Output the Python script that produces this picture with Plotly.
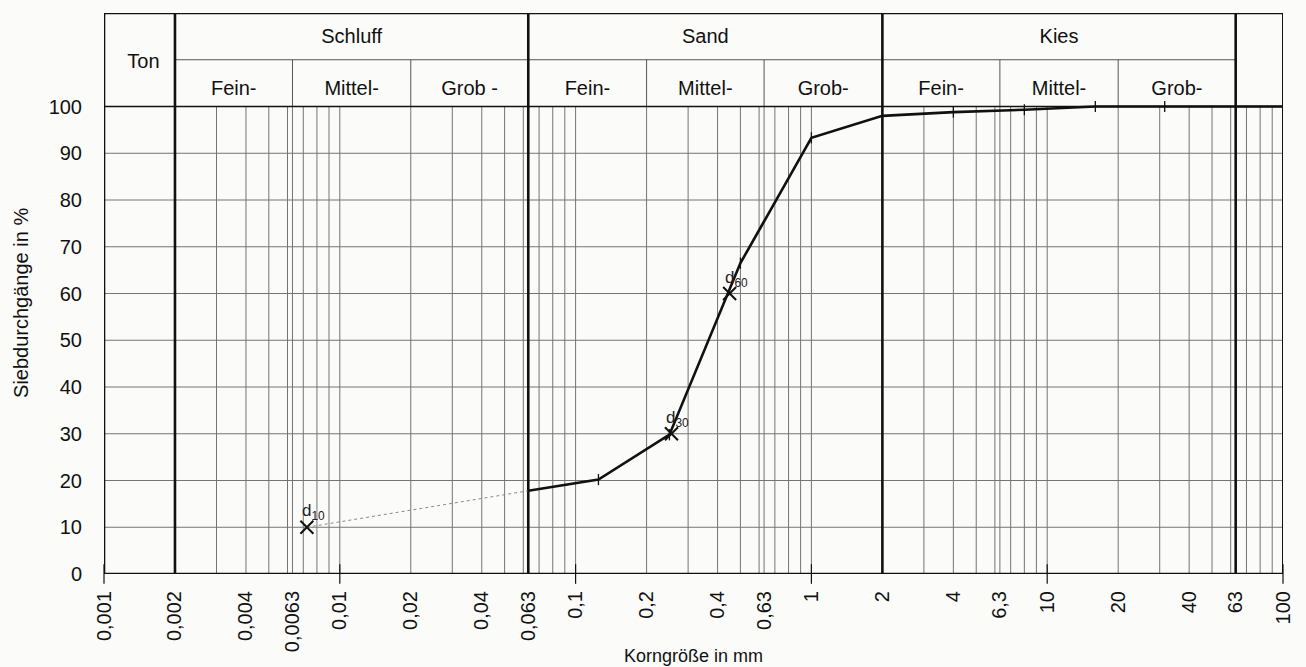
import math
import plotly.graph_objects as go

# ---------------- data ----------------
sieve_mm = [0.063, 0.125, 0.25, 0.5, 1.0, 2.0, 4.0, 8.0, 16.0, 31.5, 63.0, 100.0]
passing_pct = [17.8, 20.2, 29.8, 66.5, 93.3, 98.0, 98.8, 99.3, 100.0, 100.0, 100.0, 100.0]

fines_mm = [0.00725, 0.063]
fines_pct = [10.0, 17.8]

d_names = ["10", "30", "60"]
d_mm = [0.00725, 0.255, 0.45]
d_pct = [10.0, 30.0, 60.0]

x_tickvals = [0.001, 0.002, 0.004, 0.0063, 0.01, 0.02, 0.04, 0.063, 0.1, 0.2, 0.4,
              0.63, 1, 2, 4, 6.3, 10, 20, 40, 63, 100]
x_ticktext = ["0,001", "0,002", "0,004", "0,0063", "0,01", "0,02", "0,04", "0,063", "0,1",
              "0,2", "0,4", "0,63", "1", "2", "4", "6,3", "10", "20", "40", "63", "100"]
y_tickvals = [0, 10, 20, 30, 40, 50, 60, 70, 80, 90, 100]
decade_ticks = [0.001, 0.01, 0.1, 1, 10, 100]

grid_x = [0.003, 0.004, 0.005, 0.006, 0.0063, 0.007, 0.008, 0.009, 0.01,
          0.02, 0.03, 0.04, 0.05, 0.06, 0.07, 0.08, 0.09, 0.1,
          0.2, 0.3, 0.4, 0.5, 0.6, 0.63, 0.7, 0.8, 0.9, 1,
          3, 4, 5, 6, 6.3, 7, 8, 9, 10, 20, 30, 40, 50, 60, 70, 80, 90]
main_bounds = [0.001, 0.002, 0.063, 2.0, 63.0]
sub_bounds = [0.0063, 0.02, 0.2, 0.63, 6.3, 20.0]

group_names = ["Schluff", "Sand", "Kies"]
group_from = [0.002, 0.063, 2.0]
group_to = [0.063, 2.0, 63.0]
sub_names = ["Fein-", "Mittel-", "Grob -", "Fein-", "Mittel-", "Grob-", "Fein-", "Mittel-", "Grob-"]
sub_from = [0.002, 0.0063, 0.02, 0.063, 0.2, 0.63, 2.0, 6.3, 20.0]
sub_to = [0.0063, 0.02, 0.063, 0.2, 0.63, 2.0, 6.3, 20.0, 63.0]

X_MIN, X_MAX = 0.001, 100.0
Y_TOP, Y_MID, Y_100 = 120.0, 110.0, 100.0

FONT = "Liberation Sans, Arial, sans-serif"
GRID = "#747474"
INK = "#111111"

fig = go.Figure()


def segs(pairs):
    xs, ys = [], []
    for (x0, y0, x1, y1) in pairs:
        xs += [x0, x1, None]
        ys += [y0, y1, None]
    return xs, ys


def add_lines(pairs, color, width, dash="solid"):
    xs, ys = segs(pairs)
    fig.add_trace(go.Scatter(x=xs, y=ys, mode="lines", line=dict(color=color, width=width, dash=dash),
                             hoverinfo="skip", showlegend=False))


# thin grid
vgrid = [(g, 0, g, Y_100) for g in grid_x]
hgrid = [(X_MIN, y, X_MAX, y) for y in y_tickvals[1:-1]]
add_lines(vgrid + hgrid, GRID, 1)
# sub-divisions in header
add_lines([(b, Y_100, b, Y_MID) for b in sub_bounds] + [(0.002, Y_MID, 63.0, Y_MID)], "#555555", 1)
# 100 line
add_lines([(X_MIN, Y_100, X_MAX, Y_100)], INK, 1.6)
# main frame
add_lines([(b, 0, b, Y_TOP) for b in main_bounds] +
          [(X_MIN, 0, X_MAX, 0), (X_MIN, Y_TOP, X_MAX, Y_TOP)], INK, 2.6)
add_lines([(X_MAX, 0, X_MAX, Y_TOP)], INK, 2)

# decade ticks below axis
fig.add_trace(go.Scatter(x=decade_ticks, y=[0] * len(decade_ticks), mode="markers",
                         marker=dict(symbol="line-ns", size=14, line=dict(color=INK, width=1.2)),
                         cliponaxis=False, hoverinfo="skip", showlegend=False))

# extrapolated fines (dotted)
fig.add_trace(go.Scatter(x=fines_mm, y=fines_pct, mode="lines",
                         line=dict(color="#8a8a8a", width=1, dash="dot"),
                         hoverinfo="skip", showlegend=False))
# grading curve
fig.add_trace(go.Scatter(x=sieve_mm, y=passing_pct, mode="lines+markers",
                         line=dict(color=INK, width=2.6),
                         marker=dict(symbol="line-ns", size=8, line=dict(color=INK, width=1.3)),
                         hoverinfo="skip", showlegend=False))
# d-values
fig.add_trace(go.Scatter(x=d_mm, y=d_pct, mode="markers",
                         marker=dict(symbol="x-thin", size=13, line=dict(color=INK, width=2)),
                         hoverinfo="skip", showlegend=False))
for n, xm, yp in zip(d_names, d_mm, d_pct):
    fig.add_annotation(x=math.log10(xm), y=yp, xref="x", yref="y",
                       text="d<sub>%s</sub>" % n, showarrow=False,
                       xanchor="left", yanchor="bottom", xshift=-7, yshift=2,
                       font=dict(family=FONT, size=17, color="#222222"))

# header labels
hx = [math.sqrt(a * b) for a, b in zip(group_from, group_to)]
fig.add_trace(go.Scatter(x=hx, y=[114.6] * len(hx), mode="text", text=group_names,
                         textposition="middle center",
                         textfont=dict(family=FONT, size=20, color=INK),
                         hoverinfo="skip", showlegend=False))
sx = [math.sqrt(a * b) for a, b in zip(sub_from, sub_to)]
fig.add_trace(go.Scatter(x=sx, y=[103.6] * len(sx), mode="text", text=sub_names,
                         textposition="middle center",
                         textfont=dict(family=FONT, size=20, color=INK),
                         hoverinfo="skip", showlegend=False))
fig.add_trace(go.Scatter(x=[0.00147], y=[109.3], mode="text", text=["Ton"],
                         textposition="middle center",
                         textfont=dict(family=FONT, size=20, color=INK),
                         hoverinfo="skip", showlegend=False))

# axis titles
fig.add_annotation(x=-0.07, y=0.484, xref="paper", yref="paper", text="Siebdurchgänge in %",
                   textangle=-90, showarrow=False, xanchor="center", yanchor="middle",
                   font=dict(family=FONT, size=20, color=INK))
fig.add_annotation(x=0.5, y=-0.146, xref="paper", yref="paper", text="Korngröße in mm",
                   showarrow=False, xanchor="center", yanchor="middle",
                   font=dict(family=FONT, size=18, color=INK))

fig.update_layout(
    width=1306, height=667,
    margin=dict(l=104, r=23, t=13, b=93),
    paper_bgcolor="#fbfbf9", plot_bgcolor="#fbfbf9",
    showlegend=False,
    xaxis=dict(type="log", range=[math.log10(X_MIN), math.log10(X_MAX)],
               tickmode="array", tickvals=x_tickvals, ticktext=x_ticktext,
               tickangle=-90, showgrid=False, zeroline=False, showline=False,
               ticks="", ticklabelstandoff=12,
               tickfont=dict(family=FONT, size=20, color=INK)),
    yaxis=dict(range=[0, Y_TOP], tickmode="array", tickvals=y_tickvals,
               showgrid=False, zeroline=False, showline=False, ticks="",
               ticklabelstandoff=21,
               tickfont=dict(family=FONT, size=20, color=INK)),
)

fig.write_html("out.html")
